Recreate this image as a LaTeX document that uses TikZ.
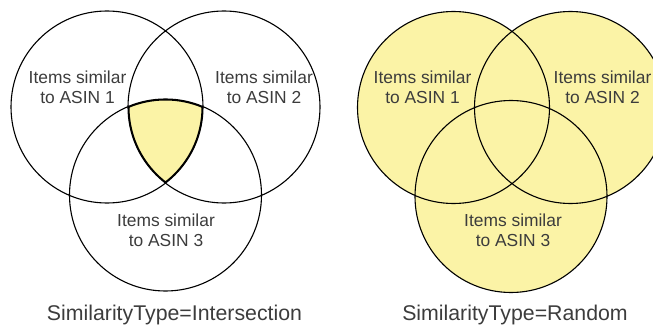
\documentclass[tikz,border=0pt]{standalone}
\usepackage{fontspec}
\setmainfont{Liberation Sans}
\definecolor{venny}{HTML}{FBF3A6}
\definecolor{txt}{HTML}{3C3C3C}
\tikzset{
  ring/.style={draw=black, line width=1.1pt},
  lbl/.style={text=txt, align=center, font=\fontsize{17.4}{20}\selectfont, inner sep=0pt},
  captxt/.style={text=txt, font=\fontsize{21.3}{24}\selectfont, inner sep=0pt}
}
\begin{document}
\begin{tikzpicture}[x=1pt,y=-1pt]
\useasboundingbox (0,0) rectangle (653,326);
\clip (0,0) rectangle (653,326);
\def\R{96}
% left diagram centres
\coordinate (la) at (107,107);
\coordinate (lb) at (224,107);
\coordinate (lc) at (165.5,195);
% right diagram centres
\coordinate (ra) at (453.5,107.5);
\coordinate (rb) at (570.5,107.5);
\coordinate (rc) at (511,196.5);
% left: shaded triple intersection
\begin{scope}
  \clip (la) circle (\R);
  \clip (lb) circle (\R);
  \clip (lc) circle (\R);
  \fill[venny] (0,0) rectangle (330,326);
  \draw[line width=3pt] (la) circle (\R) (lb) circle (\R) (lc) circle (\R);
\end{scope}
\draw[ring] (la) circle (\R) (lb) circle (\R) (lc) circle (\R);
% right: all filled
\fill[venny] (ra) circle (\R) (rb) circle (\R) (rc) circle (\R);
\draw[ring] (ra) circle (\R) (rb) circle (\R) (rc) circle (\R);
% labels
\node[lbl] (l1) at (77.5,87) {Items similar\\to ASIN 1};
\node[lbl] (l2) at (264,87) {Items similar\\to ASIN 2};
\node[lbl] (l3) at (166,230) {Items similar\\to ASIN 3};
\node[lbl] (r1) at (422.5,87) {Items similar\\to ASIN 1};
\node[lbl] (r2) at (602.5,87) {Items similar\\to ASIN 2};
\node[lbl] (r3) at (513,230) {Items similar\\to ASIN 3};
\node[captxt, anchor=base] (capl) at (174.5,320.5) {SimilarityType=Intersection};
\node[captxt, anchor=base] (capr) at (515,320.5) {SimilarityType=Random};
\end{tikzpicture}
\end{document}
